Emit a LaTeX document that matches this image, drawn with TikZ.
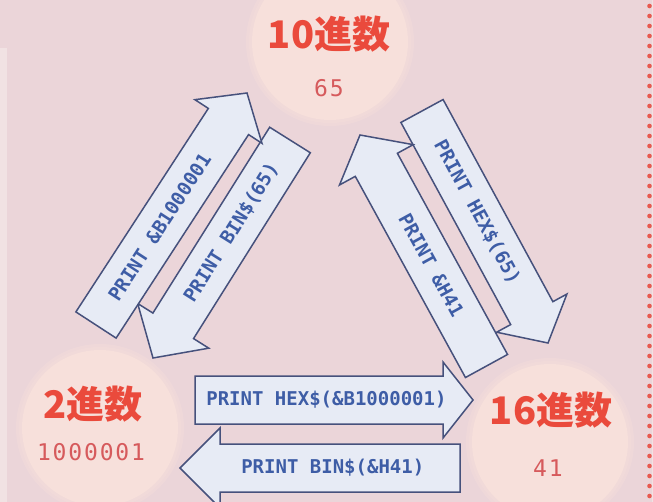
\documentclass[tikz,border=0pt]{standalone}
\usepackage{fontspec}
\usetikzlibrary{calc}
\newfontfamily\cjk{Noto Sans CJK JP}
\newfontfamily\codefont{DejaVu Sans Mono}
\newfontfamily\digfont{DejaVu Sans Mono}[LetterSpace=8]
\definecolor{bgpink}{HTML}{EBD5D9}
\definecolor{bubblepink}{HTML}{F7E0DB}
\definecolor{arrowfill}{HTML}{E7EBF5}
\definecolor{arrowline}{HTML}{46517C}
\definecolor{codeblue}{HTML}{3E5DA6}
\definecolor{labelred}{HTML}{EA4A3C}
\definecolor{numred}{HTML}{D65A5C}
\definecolor{dotred}{HTML}{E85A50}
\definecolor{stripcol}{HTML}{F1E2E3}
\tikzset{
  bubble/.style={circle, fill=bubblepink, minimum size=156pt, inner sep=0pt},
  halo/.style={fill=bubblepink, fill opacity=0.35},
  arrowbox/.style={fill=arrowfill, draw=arrowline, line width=1.5pt, line join=miter},
  arrowtext/.style={font=\codefont\bfseries\fontsize{19}{19}\selectfont, text=codeblue, inner sep=0pt},
  biglabel/.style={font=\cjk\bfseries\fontsize{38}{40}\selectfont, text=labelred, inner sep=0pt},
  numlabel/.style={font=\digfont\fontsize{23}{24}\selectfont, text=numred, inner sep=0pt},
  dotstyle/.style={fill=dotred}
}
\newcommand\blockarrow[7]{%
  \coordinate (#5h) at ($(#2)!#3!(#1)$);
  \draw[arrowbox] ($(#1)!24pt!90:(#2)$) -- ($(#5h)!24pt!-90:(#1)$) -- ($(#5h)!#4!-90:(#1)$) -- (#2)
     -- ($(#5h)!#4!90:(#1)$) -- ($(#5h)!24pt!90:(#1)$) -- ($(#1)!24pt!-90:(#2)$) -- cycle;
  \path (#1) -- (#5h) node[pos=#7, sloped, arrowtext] (#5) {#6};
}
\newcommand\softbubble[2]{%
  \fill[halo] (#2) circle (84);
  \fill[halo] (#2) circle (81);
  \node[bubble] (#1) at (#2) {};
}
\begin{document}
\begin{tikzpicture}[x=1pt,y=-1pt]
\useasboundingbox (0,0) rectangle (653,502);
\fill[bgpink] (0,0) rectangle (653,502);
\fill[stripcol] (0,48) rectangle (7,502);
\fill[stripcol] (652,0) rectangle (653,502);
\foreach \yy in {6,16,...,500} \fill[dotstyle] (649.5,\yy) circle (2.3);

% number-system circles
\coordinate (decc) at (330,42);
\coordinate (binc) at (100,428);
\coordinate (hexc) at (550,442);
\softbubble{dec}{decc}
\softbubble{bin}{binc}
\softbubble{hex}{hexc}

\node[biglabel] (declbl) at (329,34) {10進数};
\node[numlabel] (decnum) at (329,88) {65};
\node[biglabel] (binlbl) at (93,404) {2進数};
\node[numlabel] (binnum) at (91,452) {1000001};
\node[biglabel] (hexlbl) at (551,410) {16進数};
\node[numlabel] (hexnum) at (548,468) {41};

% arrow end points
\coordinate (a1t) at (96,325);   \coordinate (a1p) at (247,93);
\coordinate (a2t) at (290,140);  \coordinate (a2p) at (153,358);
\coordinate (a3t) at (486.5,366);\coordinate (a3p) at (360,135);
\coordinate (a4t) at (422,111);  \coordinate (a4p) at (548,343);
\coordinate (a5t) at (195,400);  \coordinate (a5p) at (473,400);
\coordinate (a6t) at (460,468);  \coordinate (a6p) at (180,468);

\blockarrow{a2t}{a2p}{38pt}{42pt}{a2}{PRINT BIN\$(65)}{0.5}
\blockarrow{a1t}{a1p}{34pt}{40pt}{a1}{PRINT \&B1000001}{0.48}
\blockarrow{a4t}{a4p}{34pt}{40pt}{a4}{PRINT HEX\$(65)}{0.5}
\blockarrow{a3t}{a3p}{34pt}{42pt}{a3}{PRINT \&H41}{0.5}
\blockarrow{a6t}{a6p}{40pt}{40pt}{a6}{PRINT BIN\$(\&H41)}{0.53}
\blockarrow{a5t}{a5p}{30pt}{38pt}{a5}{PRINT HEX\$(\&B1000001)}{0.53}
\end{tikzpicture}
\end{document}
